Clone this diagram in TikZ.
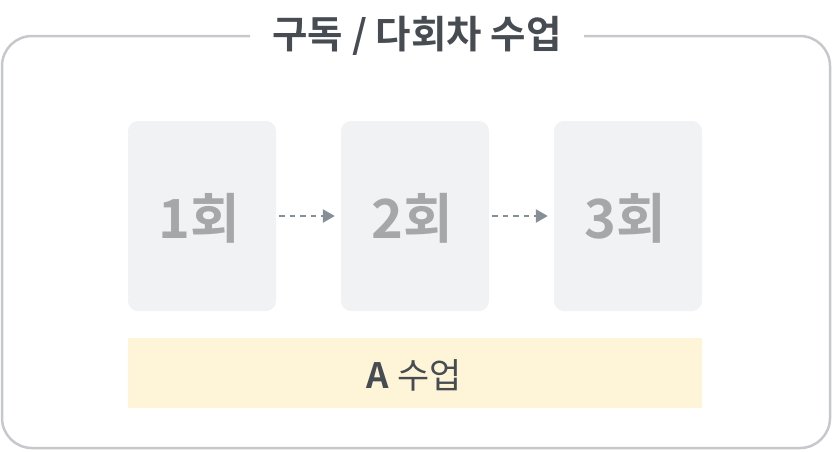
\documentclass[tikz,border=0pt]{standalone}
\usepackage{fontspec}
\newfontfamily\kr{Noto Sans CJK KR}[BoldFont={Noto Sans CJK KR Bold}]
\usetikzlibrary{arrows.meta}
\definecolor{framegray}{HTML}{C6C8CB}
\definecolor{titlecol}{HTML}{474C52}
\definecolor{boxfill}{HTML}{F1F2F4}
\definecolor{boxtext}{HTML}{A6A7A9}
\definecolor{arrowcol}{HTML}{868E96}
\definecolor{barfill}{HTML}{FEF4D7}
\tikzset{
  stepbox/.style={fill=boxfill, rounded corners=10pt, minimum width=148pt, minimum height=190pt, inner sep=0pt},
  steptext/.style={text=boxtext, font=\kr\bfseries\fontsize{54}{54}\selectfont, inner sep=0pt},
  flow/.style={arrowcol, line width=2.5pt, dash pattern=on 5.5pt off 5pt, -{Triangle[length=12pt,width=13pt]}, shorten <=3pt, shorten >=6pt},
}
\begin{document}
\begin{tikzpicture}[x=1pt,y=-1pt]
\useasboundingbox (0,0) rectangle (832,451);
\draw[framegray, line width=2.5pt, rounded corners=30pt]
  (250,36) -- (2,36) -- (2,448) -- (830,448) -- (830,36) -- (584,36);
\node[text=titlecol, font=\kr\bfseries\fontsize{38.5}{38.5}\selectfont, inner sep=0pt] (title) at (417,36) {구독 / 다회차 수업};
\node[stepbox] (b1) at (202,216) {};
\node[stepbox] (b2) at (415,216) {};
\node[stepbox] (b3) at (628,216) {};
\node[steptext] (t1) at (199,218) {1회};
\node[steptext] (t2) at (412,218) {2회};
\node[steptext] (t3) at (625,218) {3회};
\draw[flow] (b1.east) -- (b2.west);
\draw[flow] (b2.east) -- (b3.west);
\node[fill=barfill, minimum width=574pt, minimum height=70pt, inner sep=0pt] (bar) at (415,373) {};
\node[text=titlecol, font=\kr\fontsize{35}{35}\selectfont, inner sep=0pt] (bartext) at (414,375) {\textbf{A} 수업};
\end{tikzpicture}
\end{document}
